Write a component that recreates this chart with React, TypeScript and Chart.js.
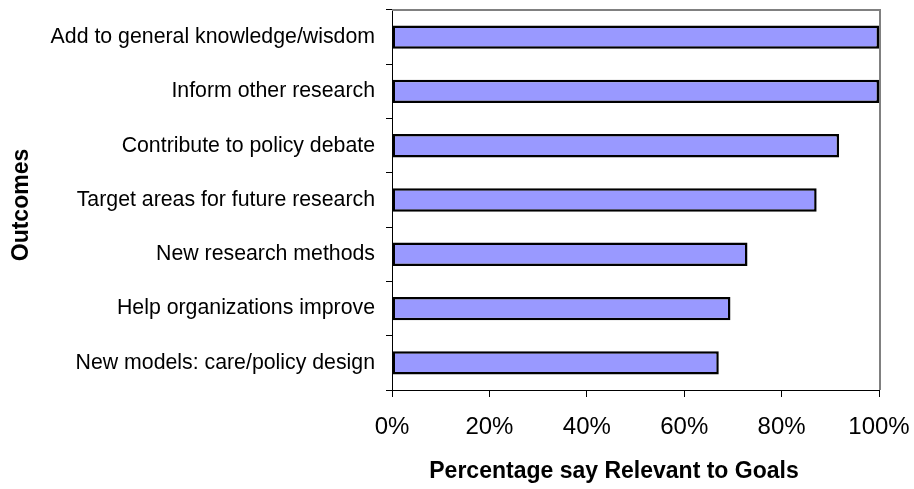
import { useEffect, useRef } from "react";
import { Chart, registerables } from "chart.js";

Chart.register(...registerables);

// Outcome categories, top to bottom
const outcomes = [
  "Add to general knowledge/wisdom",
  "Inform other research",
  "Contribute to policy debate",
  "Target areas for future research",
  "New research methods",
  "Help organizations improve",
  "New models: care/policy design",
];

// Share of respondents saying the outcome is relevant to goals (%)
const relevantPct = [100, 100, 91.8, 87.2, 73.0, 69.5, 67.1];

// Value axis ticks (%)
const pctTicks = [0, 20, 40, 60, 80, 100];

const xTitle = "Percentage say Relevant to Goals";
const yTitle = "Outcomes";

const FONT = "'Liberation Sans', Arial, Helvetica, sans-serif";

// Gray frame on the top and right of the plot area
const plotFrame = {
  id: "plotFrame",
  beforeDatasetsDraw(chart: any) {
    const { ctx, chartArea: a } = chart;
    ctx.save();
    ctx.strokeStyle = "#808080";
    ctx.lineWidth = 2;
    ctx.beginPath();
    ctx.moveTo(a.left, a.top);
    ctx.lineTo(a.right + 1, a.top);
    ctx.lineTo(a.right + 1, a.bottom);
    ctx.stroke();
    ctx.restore();
  },
};

// Axis titles
const axisTitles = {
  id: "axisTitles",
  afterDraw(chart: any) {
    const { ctx } = chart;
    ctx.save();
    ctx.fillStyle = "#000";
    ctx.font = `bold 23px ${FONT}`;
    ctx.textAlign = "center";
    ctx.textBaseline = "middle";
    ctx.fillText(xTitle, 614, 472);
    ctx.translate(22, 205);
    ctx.rotate(-Math.PI / 2);
    ctx.fillText(yTitle, 0, 0);
    ctx.restore();
  },
};

export default function App() {
  const canvasRef = useRef<HTMLCanvasElement | null>(null);

  useEffect(() => {
    if (!canvasRef.current) return;
    const chart = new Chart(canvasRef.current, {
      type: "bar",
      data: {
        labels: outcomes,
        datasets: [
          {
            data: relevantPct,
            backgroundColor: "#9999FF",
            borderColor: "#000000",
            borderWidth: 2.5,
            borderSkipped: false,
            categoryPercentage: 1,
            barPercentage: 0.43,
          },
        ],
      },
      options: {
        indexAxis: "y",
        responsive: false,
        animation: false,
        devicePixelRatio: 1,
        layout: { padding: { left: 0, top: 10, right: 35, bottom: 0 } },
        plugins: {
          legend: { display: false },
          tooltip: { enabled: false },
        },
        scales: {
          x: {
            min: 0,
            max: 100,
            afterBuildTicks: (scale: any) => {
              scale.ticks = pctTicks.map((v) => ({ value: v }));
            },
            afterFit: (scale: any) => {
              scale.height = 99;
              scale.paddingLeft = 0;
              scale.paddingRight = 0;
            },
            border: { display: true, color: "#000", width: 1 },
            grid: {
              drawOnChartArea: false,
              color: "#000",
              tickLength: 7,
            },
            ticks: {
              color: "#000",
              font: { family: FONT, size: 24 },
              padding: 16,
              maxRotation: 0,
              callback: (v: any) => `${v}%`,
            },
          },
          y: {
            afterFit: (scale: any) => {
              scale.width = 392;
              scale.paddingTop = 0;
              scale.paddingBottom = 0;
            },
            border: { display: true, color: "#000", width: 1 },
            grid: {
              drawOnChartArea: false,
              color: "#000",
              tickLength: 6,
              offset: true,
            },
            ticks: {
              color: "#000",
              font: { family: FONT, size: 21.3 },
              padding: 11,
            },
          },
        },
      },
      plugins: [plotFrame, axisTitles],
    });
    return () => chart.destroy();
  }, []);

  return (
    <div style={{ position: "absolute", left: 0, top: 0, width: 914, height: 489, background: "#fff" }}>
      <canvas ref={canvasRef} width={914} height={489} style={{ display: "block" }} />
    </div>
  );
}
